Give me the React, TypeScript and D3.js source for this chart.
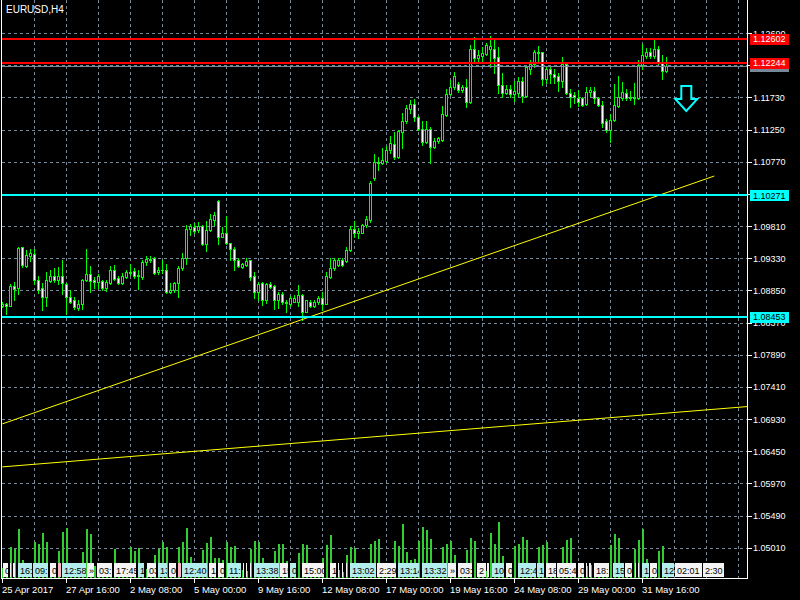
import React, { useEffect } from 'react';
import * as d3 from 'd3';

// ---- data (EURUSD, H4, bar 0 = 25 Apr 2017 00:00) ----
const opens = [1.0862,1.0864,1.0862,1.0891,1.0888,1.0949,1.0922,1.0937,1.0939,1.0901,1.0888,1.0875,1.0899,1.0906,1.0900,1.0906,1.0894,1.0875,1.0871,1.0859,
1.0864,1.0900,1.0910,1.0900,1.0898,1.0899,1.0888,1.0896,1.0916,1.0903,1.0896,1.0905,1.0911,1.0914,1.0906,1.0905,1.0928,1.0931,1.0934,1.0913,
1.0915,1.0916,1.0883,1.0885,1.0896,1.0918,1.0934,1.0977,1.0980,1.0975,1.0981,1.0954,1.0975,1.0990,1.1018,1.0965,1.0971,1.0955,1.0946,1.0931,
1.0920,1.0923,1.0930,1.0906,1.0883,1.0896,1.0871,1.0894,1.0891,1.0870,1.0879,1.0866,1.0865,1.0868,1.0868,1.0878,1.0853,1.0868,1.0861,1.0867,
1.0874,1.0865,1.0905,1.0918,1.0923,1.0930,1.0929,1.0945,1.0976,1.0971,1.0971,1.0983,1.0990,1.1053,1.1075,1.1075,1.1078,1.1094,1.1104,1.1084,
1.1122,1.1137,1.1155,1.1163,1.1143,1.1126,1.1107,1.1126,1.1099,1.1108,1.1109,1.1147,1.1178,1.1189,1.1193,1.1184,1.1188,1.1166,1.1245,1.1232,
1.1234,1.1238,1.1245,1.1245,1.1233,1.1191,1.1179,1.1185,1.1178,1.1179,1.1198,1.1175,1.1216,1.1223,1.1239,1.1240,1.1201,1.1215,1.1208,1.1205,
1.1198,1.1223,1.1179,1.1176,1.1172,1.1172,1.1163,1.1181,1.1183,1.1172,1.1162,1.1137,1.1125,1.1139,1.1160,1.1172,1.1179,1.1172,1.1174,1.1172,
1.1221,1.1235,1.1241,1.1235,1.1245,1.1224,1.1213];
const highs = [1.0867,1.0866,1.0894,1.0898,1.0950,1.0950,1.0945,1.0947,1.0946,1.0906,1.0896,1.0913,1.0915,1.0919,1.0920,1.0931,1.0896,1.0886,1.0875,1.0871,
1.0902,1.0946,1.0921,1.0905,1.0910,1.0901,1.0900,1.0921,1.0923,1.0906,1.0911,1.0916,1.0924,1.0918,1.0916,1.0931,1.0936,1.0936,1.0935,1.0920,
1.0930,1.0925,1.0896,1.0897,1.0921,1.0941,1.0983,1.0984,1.0985,1.0987,1.0983,1.0989,1.0999,1.1002,1.1020,1.0979,1.0996,1.0956,1.0949,1.0933,
1.0926,1.0933,1.0931,1.0913,1.0898,1.0897,1.0896,1.0898,1.0893,1.0883,1.0882,1.0871,1.0876,1.0878,1.0893,1.0879,1.0871,1.0871,1.0871,1.0876,
1.0883,1.0913,1.0933,1.0933,1.0933,1.0933,1.0949,1.0981,1.0989,1.0978,1.0984,1.0996,1.1048,1.1088,1.1084,1.1097,1.1100,1.1115,1.1122,1.1124,
1.1149,1.1162,1.1169,1.1170,1.1145,1.1138,1.1138,1.1129,1.1113,1.1114,1.1160,1.1185,1.1199,1.1211,1.1196,1.1191,1.1200,1.1251,1.1263,1.1244,
1.1248,1.1254,1.1264,1.1259,1.1248,1.1209,1.1191,1.1191,1.1198,1.1204,1.1203,1.1220,1.1229,1.1244,1.1250,1.1241,1.1218,1.1218,1.1215,1.1210,
1.1233,1.1224,1.1185,1.1181,1.1184,1.1174,1.1188,1.1188,1.1188,1.1174,1.1168,1.1140,1.1148,1.1193,1.1205,1.1196,1.1185,1.1183,1.1195,1.1228,
1.1253,1.1246,1.1246,1.1259,1.1249,1.1236,1.1233];
const lows = [1.0860,1.0850,1.0861,1.0871,1.0879,1.0920,1.0920,1.0929,1.0894,1.0881,1.0855,1.0861,1.0898,1.0898,1.0894,1.0879,1.0850,1.0866,1.0857,1.0856,
1.0857,1.0899,1.0882,1.0888,1.0888,1.0886,1.0884,1.0894,1.0900,1.0895,1.0894,1.0903,1.0908,1.0904,1.0887,1.0902,1.0923,1.0928,1.0909,1.0909,
1.0911,1.0881,1.0881,1.0883,1.0875,1.0915,1.0924,1.0968,1.0970,1.0972,1.0953,1.0944,1.0974,1.0983,1.0954,1.0964,1.0954,1.0930,1.0915,1.0920,
1.0919,1.0921,1.0900,1.0873,1.0871,1.0863,1.0866,1.0888,1.0857,1.0858,1.0865,1.0852,1.0861,1.0867,1.0862,1.0841,1.0852,1.0860,1.0860,1.0865,
1.0855,1.0864,1.0903,1.0916,1.0921,1.0921,1.0928,1.0944,1.0964,1.0963,1.0970,1.0980,1.0987,1.1050,1.1065,1.1073,1.1077,1.1090,1.1081,1.1083,
1.1098,1.1134,1.1149,1.1137,1.1124,1.1102,1.1105,1.1075,1.1097,1.1105,1.1108,1.1145,1.1177,1.1186,1.1181,1.1181,1.1159,1.1165,1.1226,1.1226,
1.1226,1.1236,1.1219,1.1210,1.1179,1.1174,1.1178,1.1174,1.1168,1.1175,1.1166,1.1174,1.1208,1.1218,1.1224,1.1191,1.1195,1.1195,1.1195,1.1183,
1.1189,1.1178,1.1158,1.1165,1.1160,1.1160,1.1162,1.1175,1.1165,1.1160,1.1129,1.1122,1.1107,1.1137,1.1158,1.1169,1.1169,1.1169,1.1163,1.1170,
1.1215,1.1231,1.1231,1.1231,1.1223,1.1201,1.1211];
const closes = [1.0865,1.0861,1.0891,1.0887,1.0948,1.0923,1.0938,1.0940,1.0901,1.0886,1.0875,1.0901,1.0906,1.0900,1.0906,1.0896,1.0875,1.0868,1.0860,1.0865,
1.0901,1.0910,1.0899,1.0897,1.0907,1.0889,1.0898,1.0916,1.0902,1.0896,1.0906,1.0913,1.0913,1.0907,1.0908,1.0928,1.0932,1.0932,1.0911,1.0915,
1.0916,1.0882,1.0886,1.0896,1.0918,1.0934,1.0976,1.0981,1.0974,1.0981,1.0954,1.0975,1.0991,1.0997,1.0965,1.0971,1.0955,1.0946,1.0931,1.0921,
1.0924,1.0929,1.0905,1.0883,1.0894,1.0871,1.0894,1.0890,1.0870,1.0879,1.0867,1.0868,1.0873,1.0873,1.0878,1.0853,1.0870,1.0862,1.0868,1.0874,
1.0865,1.0906,1.0918,1.0930,1.0930,1.0923,1.0945,1.0976,1.0971,1.0974,1.0983,1.0991,1.1045,1.1077,1.1077,1.1080,1.1094,1.1105,1.1084,1.1123,
1.1138,1.1157,1.1163,1.1143,1.1126,1.1107,1.1126,1.1099,1.1108,1.1112,1.1148,1.1178,1.1189,1.1205,1.1184,1.1188,1.1166,1.1245,1.1232,1.1236,
1.1239,1.1251,1.1250,1.1232,1.1191,1.1179,1.1185,1.1178,1.1182,1.1198,1.1175,1.1218,1.1223,1.1240,1.1240,1.1201,1.1215,1.1208,1.1204,1.1198,
1.1223,1.1179,1.1174,1.1174,1.1166,1.1162,1.1181,1.1184,1.1172,1.1162,1.1135,1.1125,1.1139,1.1162,1.1173,1.1181,1.1172,1.1174,1.1172,1.1221,
1.1236,1.1241,1.1235,1.1245,1.1224,1.1213,1.12192];
const volumes = [4200,3100,12300,11500,19600,7200,3800,2900,14400,13600,18000,14400,4100,3300,10800,18400,20000,5200,3500,2800,
10400,19600,17600,4800,3900,2700,5100,5600,11500,4400,3200,2600,12300,10800,11900,5300,3600,2900,9200,11500,
14400,12300,3700,3000,12300,14400,20000,8400,3500,2800,11200,14000,16400,8000,8000,7200,14400,12300,12800,5400,
3400,2900,11600,14800,14400,8000,3800,3100,10800,13600,13600,6800,3600,2800,10100,13600,13200,5100,3300,2700,
8000,13200,17200,5600,3200,2600,9200,12300,11900,5000,3500,2900,13600,14800,15600,5700,3700,3000,14800,12800,
21600,10400,7200,7600,14800,20400,19200,15600,3900,3100,12300,13600,14800,9200,3400,2800,11200,16000,14800,5500,
3600,2900,18000,13600,22400,8800,3800,3000,12800,13600,16400,15200,3700,2900,12300,13200,14400,5200,3300,2700,
12300,15200,16000,5500,3100,2600,4900,5300,4600,3800,3000,2500,13200,17600,16000,5400,3400,2800,11600,15200,
19600,7600,3500,2900,10800,12800,4100];

const symbolTitle = 'EURUSD,H4';
const priceTicks = [1.05010,1.05490,1.05970,1.06450,1.06930,1.07410,1.07890,1.08370,1.08850,1.09330,1.09810,1.10290,1.10770,1.11250,1.11730,1.12210,1.12690];
const timeTickBars = [0,16,32,48,64,80,96,112,128,144,160];
const timeTickLabels = ['25 Apr 2017','27 Apr 16:00','2 May 08:00','5 May 00:00','9 May 16:00','12 May 08:00','17 May 00:00','19 May 16:00','24 May 08:00','29 May 00:00','31 May 16:00'];
const redLevels = [1.12602, 1.12244];
const cyanLevels = [1.10271, 1.08453];
const bidPrice = 1.12192;
const trend1Bars = [0, 178];
const trend1Prices = [1.06857, 1.10556];
const trend2Bars = [0, 160];
const trend2Prices = [1.06216, 1.06989];
const arrowBar = 171;
const arrowPrice = 1.1190;

const evStart = [0.1,1.9,2.7,3.9,7.7,11.9,13.9,14.9,21.2,23.7,27.9,33.9,36.2,38.9,41.7,43.9,44.9,51.7,53.9,56.2,60.2,60.9,61.9,62.9,69.4,71.9,74.9,81.9,83.9,84.9,85.9,86.9,93.7,98.9,104.9,111.4,113.9,118.7,121.2,122.4,125.9,128.9,133.7,135.9,138.7,143.9,145.9,146.7,147.9,152.7,155.7,158.2,158.9,159.9,161.9,164.9,168.2,175.2];
const evEnd = [1.75,2.4,3.4,7.7,11.7,13.7,14.9,21.2,23.2,27.7,33.7,35.7,38.7,41.4,43.7,44.9,51.4,53.7,55.7,59.9,60.7,61.4,62.4,69.4,71.7,73.7,80.7,83.7,84.4,85.4,86.4,93.7,98.7,104.4,111.4,113.7,117.7,121.2,121.9,125.7,127.7,133.7,135.7,138.7,143.7,145.7,146.4,147.4,151.9,155.7,157.7,158.7,159.4,161.9,163.9,168.2,175.2,180.7];
const evLabel = ['0','','','16:','09:','0','','12:58','»','03:','17:45','1','03','13','0','','12:40','1','0','11:','','','','13:38','15','0','15:00','1','','','','13:02','2:29','13:14','13:32','»','03:','2','','10:','0','12:4','1','18','05:4','0','','','18:','15','0','','','1','0','12','02:01','2:30'];
const evKind = ['w','w','w','c','c','w','p','c','w','w','w','c','w','c','w','p','c','w','w','c','w','w','w','c','w','c','w','w','w','w','w','c','w','c','c','w','w','w','w','c','w','c','c','w','w','w','w','w','w','c','w','w','w','c','w','c','w','w'];

const FONT = '"Liberation Sans", Arial, sans-serif';
const GRID = '#778899';

export default function App() {
  useEffect(() => {
    document.body.style.margin = '0';
    document.body.style.background = '#000';
  }, []);

  const x = d3.scaleLinear().domain([0, 1]).range([2.3, 6.3]);
  const y = d3.scaleLinear().domain([1.0501, 1.1269]).range([547.7, 33]);
  const vy = d3.scaleLinear().domain([0, 24000]).range([578, 518]);
  const px = (v: number) => Math.round(v) + 0.5;
  const cxOf = (i: number) => Math.floor(x(i)) + 0.5;

  const left = 2, right = 747, bottom = 578;

  const vGrid: number[] = [];
  for (let b = 8; x(b) < right - 2; b += 8) vGrid.push(b);

  const t2slope = (trend2Prices[1] - trend2Prices[0]) / (trend2Bars[1] - trend2Bars[0]);
  const t2EndBar = x.invert(right);
  const t2EndPrice = trend2Prices[0] + t2slope * (t2EndBar - trend2Bars[0]);

  const line = d3.line<[number, number]>().x(d => x(d[0])).y(d => y(d[1]));

  const ax = x(arrowBar), ay = y(arrowPrice);
  const arrowPath = `M${ax - 5},${ay} L${ax + 5},${ay} L${ax + 5},${ay + 13} L${ax + 11},${ay + 13} L${ax},${ay + 25} L${ax - 11},${ay + 13} L${ax - 5},${ay + 13} Z`;

  const kindFill: Record<string, string> = { w: '#f4f4f4', c: '#b2eeee', p: '#ffb6c1' };

  // price-axis labels fully covered by a level box in the reference are not drawn as text
  const boxLevels = [...redLevels, ...cyanLevels, bidPrice];
  const hiddenTick = (p: number) => boxLevels.some(l => Math.abs(y(l) - y(p)) < 4);

  return (
    <svg width={800} height={600} style={{ position: 'absolute', left: 0, top: 0, background: '#000' }} fontFamily={FONT}>
      <defs>
        <clipPath id="plot"><rect x={left} y={0} width={right - left} height={bottom} /></clipPath>
      </defs>
      <rect x={0} y={0} width={800} height={600} fill="#000" />
      {/* grid */}
      <g stroke={GRID} strokeWidth={1} strokeDasharray="3,3" shapeRendering="crispEdges">
        {priceTicks.map((p, k) => (
          <line key={'h' + k} x1={left} x2={right} y1={px(y(p))} y2={px(y(p))} />
        ))}
        {vGrid.map(b => (
          <line key={'v' + b} x1={px(x(b))} x2={px(x(b))} y1={0} y2={bottom} />
        ))}
      </g>
      <g clipPath="url(#plot)">
        {/* volumes */}
        <g fill="#32cd32" shapeRendering="crispEdges">
          {volumes.map((v, i) => (
            <rect key={'vol' + i} x={cxOf(i) - 1} y={Math.round(vy(v))} width={2} height={bottom - Math.round(vy(v))} />
          ))}
        </g>
        {/* candles */}
        <g shapeRendering="crispEdges">
          {opens.map((o, i) => {
            const c = closes[i];
            const cx = cxOf(i);
            const top = Math.round(Math.min(y(o), y(c)));
            const bot = Math.round(Math.max(y(o), y(c)));
            const bull = c >= o;
            return (
              <g key={'c' + i}>
                <line x1={cx} x2={cx} y1={Math.round(y(highs[i]))} y2={Math.round(y(lows[i])) + 1} stroke="#00ff00" />
                {bot - top < 1 ? (
                  <line x1={cx - 1.5} x2={cx + 1.5} y1={top + 0.5} y2={top + 0.5} stroke="#00ff00" />
                ) : (
                  <rect x={cx - 1} y={top + 0.5} width={2} height={bot - top} fill={bull ? '#000' : '#fff'} stroke="#00ff00" />
                )}
              </g>
            );
          })}
        </g>
        {/* trend lines */}
        <path d={line([[trend1Bars[0], trend1Prices[0]], [trend1Bars[1], trend1Prices[1]]]) || ''} stroke="#ffff00" strokeWidth={1} fill="none" />
        <path d={line([[trend2Bars[0], trend2Prices[0]], [t2EndBar, t2EndPrice]]) || ''} stroke="#ffff00" strokeWidth={1} fill="none" />
        {/* bid line */}
        <line x1={left} x2={right} y1={px(y(bidPrice))} y2={px(y(bidPrice))} stroke={GRID} shapeRendering="crispEdges" />
        {/* horizontal levels */}
        {redLevels.map((p, k) => (
          <line key={'r' + k} x1={left} x2={right} y1={Math.round(y(p))} y2={Math.round(y(p))} stroke="#ff0000" strokeWidth={2} shapeRendering="crispEdges" />
        ))}
        {cyanLevels.map((p, k) => (
          <line key={'cy' + k} x1={left} x2={right} y1={Math.round(y(p))} y2={Math.round(y(p))} stroke="#00ffff" strokeWidth={2} shapeRendering="crispEdges" />
        ))}
        {/* arrow */}
        <path d={arrowPath} fill="#000" stroke="#00ffff" strokeWidth={2} strokeLinejoin="miter" />
      </g>
      {/* event strip */}
      {evStart.map((s, k) => {
        const x0 = Math.round(x(s));
        const x1 = Math.round(x(evEnd[k]));
        const w = Math.max(1, x1 - x0 - 1);
        return (
          <svg key={'ev' + k} x={x0} y={563} width={w} height={14} overflow="hidden">
            <rect x={0} y={0} width={w} height={14} fill={kindFill[evKind[k]]} />
            {evLabel[k] && (
              <text x={2} y={11} fontSize={9} fill="#000">{evLabel[k]}</text>
            )}
          </svg>
        );
      })}
      {/* frame */}
      <g stroke="#fff" strokeWidth={1} shapeRendering="crispEdges">
        <line x1={1.5} x2={1.5} y1={0} y2={bottom + 0.5} />
        <line x1={right + 0.5} x2={right + 0.5} y1={0} y2={bottom + 0.5} />
        <line x1={1} x2={right + 1} y1={bottom + 0.5} y2={bottom + 0.5} />
      </g>
      {/* price axis */}
      {priceTicks.map((p, k) => (
        <g key={'pt' + k}>
          <line x1={right} x2={right + 5} y1={px(y(p))} y2={px(y(p))} stroke="#fff" shapeRendering="crispEdges" />
          {!hiddenTick(p) && (
            <text x={right + 6} y={y(p) + 3.5} fontSize={9} fill="#fff">{p.toFixed(5)}</text>
          )}
        </g>
      ))}
      {/* level labels */}
      <rect x={750} y={Math.round(y(bidPrice)) - 6} width={39} height={12} fill={GRID} />
      {redLevels.map((p, k) => (
        <g key={'rl' + k}>
          <rect x={750} y={Math.round(y(p)) - 5} width={39} height={11} fill="#ff0000" />
          <text x={753} y={y(p) + 3.5} fontSize={9} fill="#fff">{p.toFixed(5)}</text>
        </g>
      ))}
      {cyanLevels.map((p, k) => (
        <g key={'cl' + k}>
          <rect x={750} y={Math.round(y(p)) - 5} width={39} height={11} fill="#00ffff" />
          <text x={753} y={y(p) + 3.5} fontSize={9} fill="#000">{p.toFixed(5)}</text>
        </g>
      ))}
      {/* time axis */}
      {timeTickBars.map((b, k) => (
        <g key={'tt' + k}>
          <line x1={px(x(b))} x2={px(x(b))} y1={bottom} y2={bottom + 5} stroke="#fff" shapeRendering="crispEdges" />
          <text x={Math.round(x(b))} y={593} fontSize={9.5} fill="#fff">{timeTickLabels[k]}</text>
        </g>
      ))}
      <text x={6} y={13} fontSize={10} fill="#fff">{symbolTitle}</text>
    </svg>
  );
}
